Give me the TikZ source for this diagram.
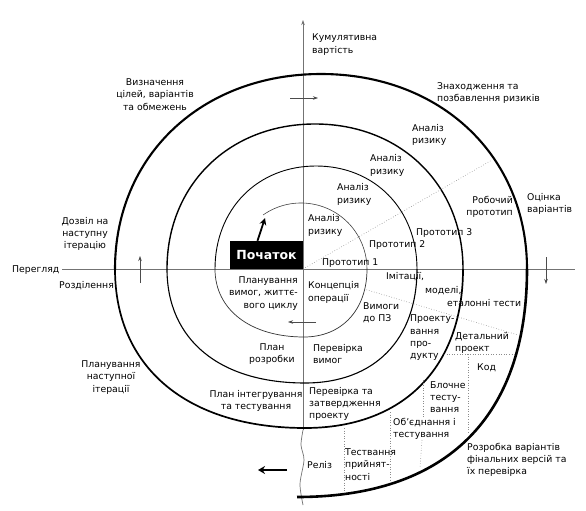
\documentclass[tikz,border=0pt]{standalone}
\usepackage{fontspec}
\setmainfont{DejaVu Sans}
\usetikzlibrary{arrows.meta}
% #1 start x, #2 end x, #3 apex x, #4 apex y, #5 fullness, #6 options
\newcommand\spiralhalf[6]{%
  \draw[#6] (#1,269) .. controls (#1,{269+#5*(#4-269)}) and ({#3+#5*(#1-#3)},#4) .. (#3,#4)
    .. controls ({#3+#5*(#2-#3)},#4) and (#2,{269+#5*(#4-269)}) .. (#2,269);}
\begin{document}
\begin{tikzpicture}[x=1pt,y=-1pt,
  txt/.style={font=\fontsize{9.3}{12.3}\selectfont, inner sep=0pt, align=left},
  axisline/.style={draw=black!55, line width=0.7pt},
  sar/.style={draw=black!70, line width=0.6pt, -{Stealth[length=5pt,width=3.5pt]}},
  bigar/.style={line width=2pt, -{Stealth[length=7pt,width=8pt]}},
  dotline/.style={draw=black!45, line width=0.6pt, dotted},
  startbox/.style={fill=black, text=white, inner sep=0pt, minimum width=73pt,
    minimum height=28pt, font=\bfseries\fontsize{12.5}{14}\selectfont}]
\fill[white] (0,0) rectangle (586,511);
\useasboundingbox (0,0) rectangle (586,511);

% axes
\coordinate (hL) at (62,269);
\coordinate (hR) at (575,269);
\coordinate (vB) at (303,430);
\coordinate (vT) at (303,20);
\draw[axisline] (hL) -- (hR);
\draw[axisline, -{Stealth[length=5pt,width=3.5pt]}] (vB) -- (vT);
\draw[axisline] plot[smooth] coordinates {(303,430) (301,445) (304,460) (300,484) (303,505)};

% spiral
\draw[black!75, line width=0.6pt] (301,269) ++(235:66) arc[start angle=235, end angle=360, radius=66];
\spiralhalf{367}{215}{304}{337}{0.6}{black!80, line width=0.7pt}
\spiralhalf{215}{417}{316}{166}{0.58}{black, line width=0.9pt}
\spiralhalf{417}{167}{305}{383}{0.62}{black, line width=1.1pt}
\spiralhalf{167}{463}{315}{124}{0.58}{black, line width=1.4pt}
\spiralhalf{463}{115}{305}{428}{0.62}{black, line width=1.7pt}
\spiralhalf{115}{527}{321}{74}{0.58}{black, line width=2.1pt}
\draw[black, line width=2.6pt] (527,269) .. controls (527,417.2) and (446.5,497) .. (297,497);

% dotted partitions
\draw[dotline] (303,269) -- (492,160);
\draw[dotline] (364,289) -- (518,335);
\draw[dotline] (444,354) -- (515,354);
\draw[dotline] (468,354) -- (468,433);
\draw[dotline] (423,380) -- (423,418);
\draw[dotline] (422,440) -- (420,468);
\draw[dotline] (390,412) -- (390,480);
\draw[dotline] (344,428) -- (344,493);

% small arrows
\draw[sar] (290,98) -- (318,98);
\draw[sar] (140,283) -- (140,256);
\draw[sar] (546,257) -- (546,284);
\draw[sar] (316,322) -- (288,322);
\draw[bigar] (287,470) -- (258,470);

% start
\node[startbox] (start) at (266.5,255) {Початок};
\draw[line width=1.8pt, -{Stealth[length=7pt,width=7pt]}] ([xshift=-9pt]start.north) -- (265,218);

% labels
\node[txt, anchor=west] (kum) at (312,44.5) {Кумулятивна\\вартість};
\node[txt, anchor=center, align=center] (vyz) at (155,94.5) {Визначення\\цілей, варіантів\\та обмежень};
\node[txt, anchor=west] (znakh) at (437,93) {Знаходження та\\позбавлення ризиків};
\node[txt, anchor=west] (an1) at (412,135) {Аналіз\\ризику};
\node[txt, anchor=west] (an2) at (370,165.5) {Аналіз\\ризику};
\node[txt, anchor=west] (an3) at (337,194.5) {Аналіз\\ризику};
\node[txt, anchor=west] (an4) at (308,225.5) {Аналіз\\ризику};
\node[txt, anchor=east, align=right] (rob) at (513,207) {Робочий\\прототип};
\node[txt, anchor=west] (ots) at (527,204) {Оцінка\\варіантів};
\node[txt, anchor=west] (p3) at (416,233) {Прототип 3};
\node[txt, anchor=west] (p2) at (369,245) {Прототип 2};
\node[txt, anchor=west] (p1) at (322,263) {Прототип 1};
\node[txt, anchor=west] (pereh) at (12,270) {Перегляд};
\node[txt, anchor=west] (rozd) at (59,286) {Розділення};
\node[txt, anchor=center, align=center] (dozv) at (85,234) {Дозвіл на\\наступну\\ітерацію};
\node[txt, anchor=east, align=right] (planvym) at (298,293.5) {Планування\\вимог, життє-\\вого циклу};
\node[txt, anchor=west] (konc) at (308,292.5) {Концепція\\операції};
\node[txt, anchor=west] (imit) at (386,277) {Імітації,};
\node[txt, anchor=west] (model) at (425,291) {моделі,};
\node[txt, anchor=west] (etal) at (447,303) {еталонні тести};
\node[txt, anchor=west] (vymogy) at (363,312.5) {Вимоги\\до ПЗ};
\node[txt, anchor=west] (proekt) at (410,338) {Проекту-\\вання\\про-\\дукту};
\node[txt, anchor=west] (detal) at (455,343) {Детальний\\проект};
\node[txt, anchor=west] (kod) at (477,368) {Код};
\node[txt, anchor=west] (perevym) at (313,354) {Перевірка\\вимог};
\node[txt, anchor=center, align=center] (planroz) at (272,354) {План\\розробки};
\node[txt, anchor=center, align=center] (plannast) at (111,377.5) {Планування\\наступної\\ітерації};
\node[txt, anchor=center, align=center] (planint) at (256,401) {План інтегрування\\та тестування};
\node[txt, anchor=west] (perzat) at (309,404) {Перевірка та\\затвердження\\проекту};
\node[txt, anchor=west] (bloch) at (430,397) {Блочне\\тесту-\\вання};
\node[txt, anchor=west] (obyed) at (393,428.5) {Об'єднання і\\тестування};
\node[txt, anchor=west] (test) at (345,464.5) {Тествання\\прийнят-\\ності};
\node[txt, anchor=west] (reliz) at (307,465) {Реліз};
\node[txt, anchor=west] (rozrob) at (467,460) {Розробка варіантів\\фінальних версій та\\їх перевірка};
\end{tikzpicture}
\end{document}
